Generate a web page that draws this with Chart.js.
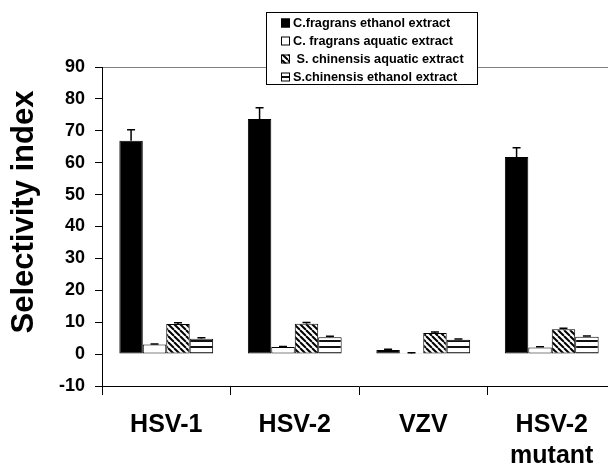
<!DOCTYPE html>
<html>
<head>
<meta charset="utf-8">
<script src="https://cdn.jsdelivr.net/npm/chart.js@4.4.0/dist/chart.umd.min.js"></script>
<style>
body { margin: 0; background: #fff; overflow: hidden; }
#wrap { width: 608px; height: 472px; overflow: hidden; }
</style>
</head>
<body>
<div id="wrap"><canvas id="myChart" width="620" height="472"></canvas></div>
<script>
var categories = [["HSV-1"], ["HSV-2"], ["VZV"], ["HSV-2", "mutant"]];
var seriesNames = ["C.fragrans ethanol extract", "C. fragrans aquatic extract", " S. chinensis aquatic extract", "S.chinensis ethanol extract"];

var cfEthanol = [66.9, 73.7, 1.3, 61.8];
var cfEthanolErr = [3.4, 3.5, 0.2, 2.9];
var cfAquatic = [3.0, 2.2, 0.1, 2.1];
var cfAquaticErr = [0.2, 0.2, 0.3, 0.2];
var scAquatic = [9.4, 9.5, 6.6, 7.8];
var scAquaticErr = [0.4, 0.4, 0.3, 0.3];
var scEthanol = [4.8, 5.3, 4.5, 5.4];
var scEthanolErr = [0.3, 0.3, 0.2, 0.3];

var yMin = -10, yMax = 90, yStep = 10;
var yTitle = "Selectivity index";
var font = "Arial, 'Liberation Sans', sans-serif";

var ctx = document.getElementById("myChart").getContext("2d");

function hatchPattern() {
    var c = document.createElement("canvas");
    c.width = 6; c.height = 6;
    var g = c.getContext("2d");
    g.fillStyle = "#fff";
    g.fillRect(0, 0, 6, 6);
    g.strokeStyle = "#000";
    g.lineWidth = 2;
    [-6, 0, 6].forEach(function (k) {
        g.beginPath();
        g.moveTo(k, 0);
        g.lineTo(k + 6, 6);
        g.stroke();
    });
    return ctx.createPattern(c, "repeat");
}

function stripePattern() {
    var c = document.createElement("canvas");
    c.width = 4; c.height = 6;
    var g = c.getContext("2d");
    g.fillStyle = "#fff";
    g.fillRect(0, 0, 4, 6);
    g.fillStyle = "#111";
    g.fillRect(0, 4, 4, 2);
    return ctx.createPattern(c, "repeat");
}

var fills = ["#000", "#fff", hatchPattern(), stripePattern()];

// error bars, upper side only
var errorBars = {
    id: "errorBars",
    afterDatasetsDraw: function (chart) {
        var c = chart.ctx, y = chart.scales.y;
        c.save();
        c.strokeStyle = "#000";
        c.lineWidth = 1.5;
        chart.data.datasets.forEach(function (ds, di) {
            chart.getDatasetMeta(di).data.forEach(function (bar, i) {
                var y0 = y.getPixelForValue(ds.data[i]);
                var y1 = y.getPixelForValue(ds.data[i] + ds.errors[i]);
                c.beginPath();
                c.moveTo(bar.x, y0);
                c.lineTo(bar.x, y1);
                c.moveTo(bar.x - 4, y1);
                c.lineTo(bar.x + 4, y1);
                c.stroke();
            });
        });
        c.restore();
    }
};

var extras = {
    id: "extras",
    afterDraw: function (chart) {
        var c = chart.ctx;
        c.save();
        // y title
        c.translate(24, 212);
        c.rotate(-Math.PI / 2);
        c.font = "bold 31px " + font;
        c.fillStyle = "#000";
        c.textAlign = "center";
        c.textBaseline = "middle";
        c.fillText(yTitle, 0, 0);
        c.restore();

        // legend box over the plot
        c.save();
        c.fillStyle = "#fff";
        c.fillRect(266, 12, 212, 73);
        c.strokeStyle = "#000";
        c.lineWidth = 1;
        c.strokeRect(266.5, 12.5, 211, 72);
        c.font = "bold 12.7px " + font;
        c.textBaseline = "middle";
        c.textAlign = "left";
        chart.data.datasets.forEach(function (ds, i) {
            var cy = 23 + i * 18;
            c.fillStyle = ds.backgroundColor;
            c.fillRect(281, cy - 4.5, 9, 9);
            c.strokeStyle = "#000";
            c.strokeRect(281.5, cy - 4, 8, 8);
            c.fillStyle = "#000";
            c.fillText(ds.label, 293, cy + 0.5);
        });
        c.restore();
    }
};

var series = [cfEthanol, cfAquatic, scAquatic, scEthanol];
var errs = [cfEthanolErr, cfAquaticErr, scAquaticErr, scEthanolErr];

new Chart(ctx, {
    type: "bar",
    data: {
        labels: categories,
        datasets: series.map(function (d, i) {
            return {
                label: seriesNames[i],
                data: d,
                errors: errs[i],
                backgroundColor: fills[i],
                borderColor: "#000",
                borderWidth: 1,
                borderSkipped: false,
                categoryPercentage: 0.73,
                barPercentage: 1.0
            };
        })
    },
    options: {
        responsive: false,
        animation: false,
        layout: { padding: { top: 67, left: 0, right: 4, bottom: 0 } },
        plugins: {
            legend: { display: false },
            tooltip: { enabled: false }
        },
        scales: {
            x: {
                offset: true,
                afterFit: function (s) { s.height = 86; },
                grid: {
                    offset: true,
                    drawOnChartArea: false,
                    tickLength: 9,
                    tickColor: "#000"
                },
                border: { color: "#000", width: 1 },
                ticks: {
                    color: "#000",
                    padding: 15,
                    maxRotation: 0,
                    font: { family: font, size: 25, weight: "bold", lineHeight: 1.22 }
                }
            },
            y: {
                min: yMin,
                max: yMax,
                afterFit: function (s) { s.width = 102; },
                grid: {
                    color: function (c) { return c.tick && c.tick.value === yMax ? "#808080" : "transparent"; },
                    tickColor: "#000",
                    tickLength: 7
                },
                border: { color: "#000", width: 1 },
                ticks: {
                    stepSize: yStep,
                    color: "#000",
                    padding: 10,
                    font: { family: font, size: 18, weight: "bold" }
                }
            }
        }
    },
    plugins: [errorBars, extras]
});
</script>
</body>
</html>
